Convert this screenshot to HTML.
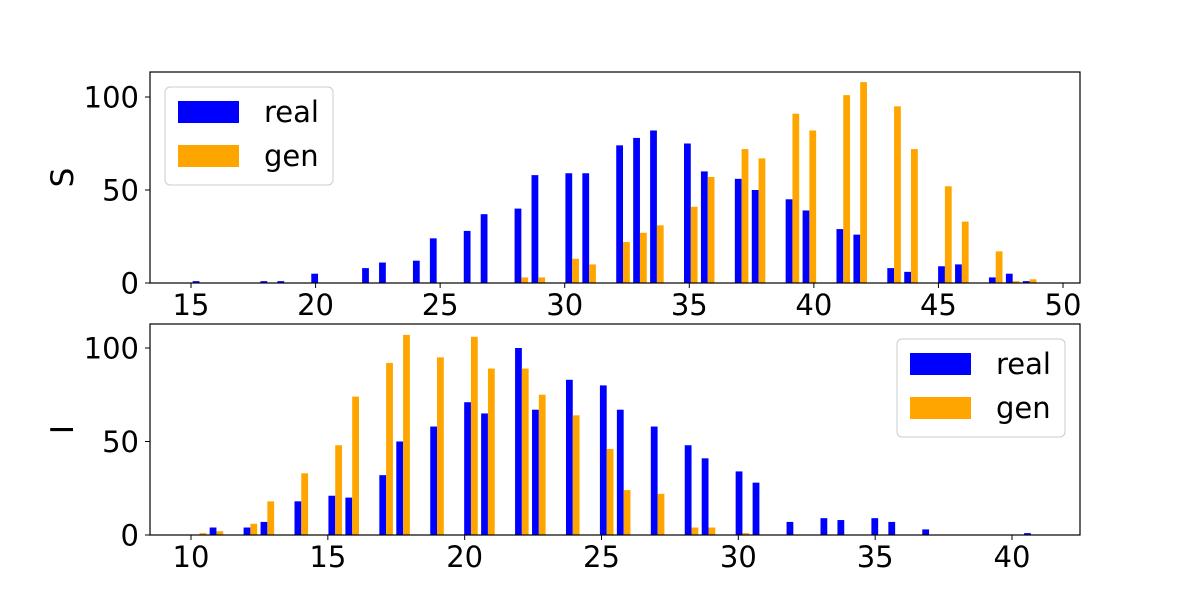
<!DOCTYPE html>
<html><head><meta charset="utf-8"><style>
body{margin:0;background:#fff}
svg{display:block;font-family:"DejaVu Sans","Liberation Sans",sans-serif}
</style></head><body>
<svg id="c" width="1200" height="600" viewBox="0 0 1200 600"></svg>
<script>
const sBinStart = 15, sBinEnd = 49, sBins = 50;
const sTicks = [15,20,25,30,35,40,45,50];
const sYTicks = [0,50,100];
const sRealBins = [0,4,5,7,10,11,13,14,16,17,19,20,22,23,25,26,27,29,30,32,33,35,36,38,39,41,42,44,45,47,48,49];
const sRealVals = [1,1,1,5,8,11,12,24,28,37,40,58,59,59,74,78,82,75,60,56,50,45,39,29,26,8,6,9,10,3,5,1];
const sGenBins = [19,20,22,23,25,26,27,29,30,32,33,35,36,38,39,41,42,44,45,47,48,49];
const sGenVals = [3,3,13,10,22,27,31,41,57,72,67,91,82,101,108,95,72,52,33,17,1,2];

const iBinStart = 10, iBinEnd = 41, iBins = 50;
const iTicks = [10,15,20,25,30,35,40];
const iYTicks = [0,50,100];
const iRealBins = [1,3,4,6,8,9,11,12,14,16,17,19,20,22,24,25,27,29,30,32,33,35,37,38,40,41,43,49];
const iRealVals = [4,4,7,18,21,20,32,50,58,71,65,100,67,83,80,67,58,48,41,34,28,7,9,8,9,7,3,1];
const iGenBins = [0,1,3,4,6,8,9,11,12,14,16,17,19,20,22,24,25,27,29,30,32];
const iGenVals = [1,2,6,18,33,48,74,92,107,95,106,89,89,75,64,46,24,22,4,4,1];

const svg = document.getElementById('c');
const NS = 'http://www.w3.org/2000/svg';
function mk(tag, attrs, parent){const e=document.createElementNS(NS,tag);for(const k in attrs)e.setAttribute(k,attrs[k]);(parent||svg).appendChild(e);return e;}

function panel(cfg){
  const g = mk('g',{});
  
  
  const L=150,R=1080,T=cfg.top,B=cfg.bottom;
  const xs = v => cfg.x0px + (v - cfg.x0) * cfg.xk;
  const ys = v => B - v * cfg.yk;
  const bw = (cfg.binEnd - cfg.binStart) / cfg.bins;
  const bwpx = bw * cfg.xk;
  const drawBars = (bins, vals, color, off, nm) => {
    bins.forEach((b,i)=>{
      const x = xs(cfg.binStart + b*bw) + bwpx*(0.1 + off*0.4);
      const r = mk('rect',{x:x,y:ys(vals[i]),width:bwpx*0.4,height:vals[i]*cfg.yk,fill:color},g);
      
      
    });
  };
  drawBars(cfg.realBins,cfg.realVals,'#0000ff',0,'bar-real');
  drawBars(cfg.genBins,cfg.genVals,'#ffa500',1,'bar-gen');
  const fr = mk('rect',{x:L,y:T,width:R-L,height:B-T,fill:'none',stroke:'#000','stroke-width':1.2},g);
  
  
  cfg.xticks.forEach(t=>{
    const x=xs(t);
    mk('line',{x1:x,x2:x,y1:B,y2:B+5,stroke:'#000','stroke-width':1},g);
    const tx=mk('text',{x:x,y:B+32,'font-size':29,'text-anchor':'middle'},g);
    tx.textContent=t;
    
    
  });
  cfg.yticks.forEach(t=>{
    const y=ys(t);
    mk('line',{x1:L-5,x2:L,y1:y,y2:y,stroke:'#000','stroke-width':1},g);
    const tx=mk('text',{x:L-11,y:y+10.5,'font-size':29,'text-anchor':'end'},g);
    tx.textContent=t;
    
    
  });
  const yl=mk('text',{x:0,y:0,'font-size':31,'text-anchor':'middle',transform:`translate(73,${(T+B)/2}) rotate(-90)`},g);
  yl.textContent=cfg.ylabel;
  
  
  const lg=mk('g',{},g);
  
  
  const lx=cfg.legX, ly=cfg.legY;
  mk('rect',{x:lx,y:ly,width:168,height:98,rx:5,fill:'#fff','fill-opacity':0.8,stroke:'#ccc','stroke-width':1},lg);
  [['real','#0000ff',14],['gen','#ffa500',58]].forEach(([n,c,dy])=>{
    const p=mk('rect',{x:lx+13,y:ly+dy,width:61,height:22,fill:c},lg);
    
    
    const t=mk('text',{x:lx+99,y:ly+dy+21,'font-size':29},lg);
    t.textContent=n;
    
    
  });
}

panel({name:'panel-s',top:72,bottom:283,x0:15,x0px:191,xk:(1063-191)/35,yk:1.86,
  binStart:sBinStart,binEnd:sBinEnd,bins:sBins,realBins:sRealBins,realVals:sRealVals,genBins:sGenBins,genVals:sGenVals,
  xticks:sTicks,yticks:sYTicks,ylabel:'S',legX:165,legY:87});
panel({name:'panel-i',top:324,bottom:535,x0:10,x0px:191,xk:(1012-191)/30,yk:1.87,
  binStart:iBinStart,binEnd:iBinEnd,bins:iBins,realBins:iRealBins,realVals:iRealVals,genBins:iGenBins,genVals:iGenVals,
  xticks:iTicks,yticks:iYTicks,ylabel:'I',legX:897,legY:339});
</script>
</body></html>
